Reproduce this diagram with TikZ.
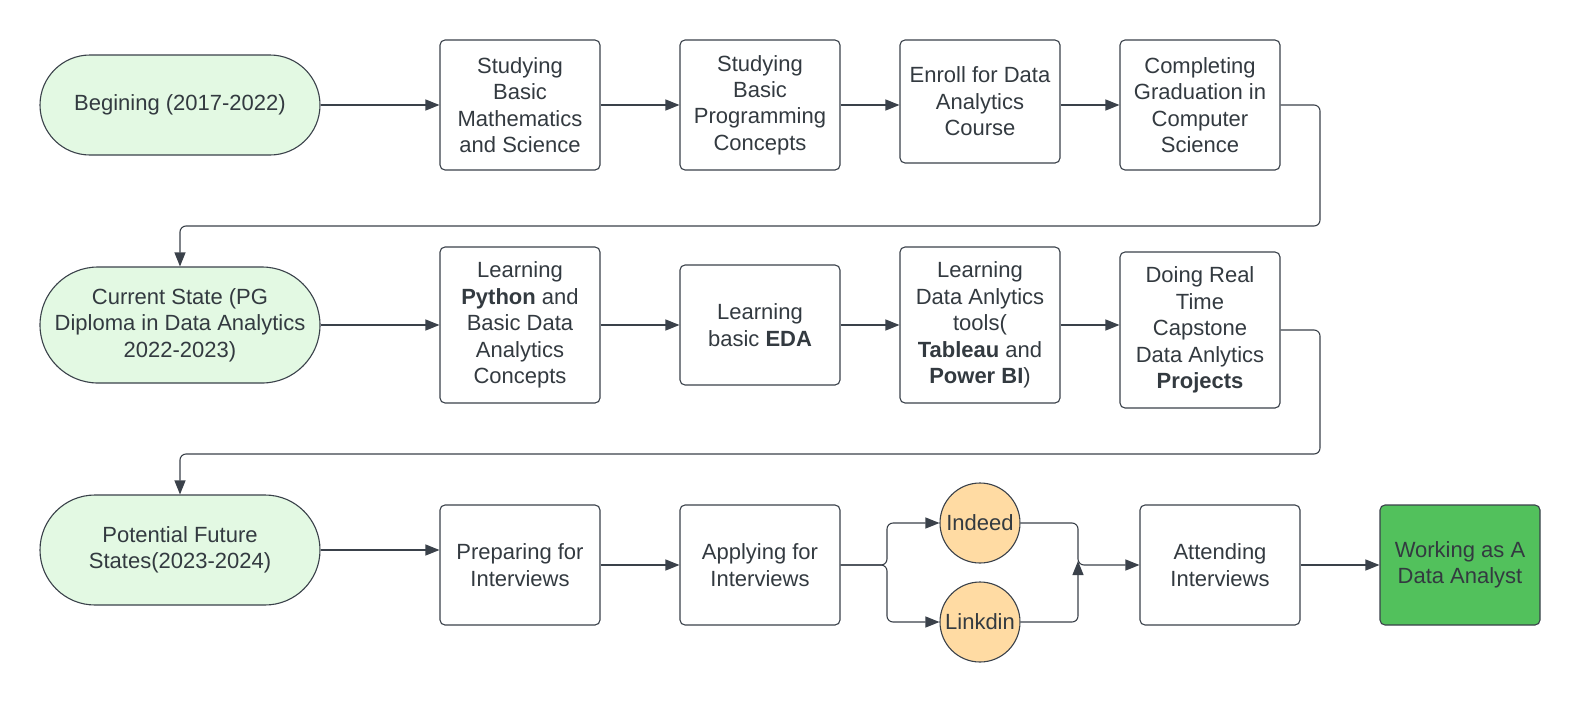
\documentclass[tikz,border=0pt]{standalone}
\usepackage{fontspec}
\setmainfont{Liberation Sans}
\usetikzlibrary{arrows.meta}
\definecolor{ln}{HTML}{3A414A}
\definecolor{tx}{HTML}{333A40}
\definecolor{stfill}{HTML}{E3F9E3}
\definecolor{cfill}{HTML}{FFDBA3}
\definecolor{gfill}{HTML}{52C15C}
\tikzset{
  base/.style={draw=ln, line width=1.1pt, text=tx, align=center, inner sep=2pt,
    font=\fontsize{22}{26.4}\selectfont},
  box/.style={base, rectangle, rounded corners=5pt, minimum width=160pt, fill=white},
  stad/.style={base, rectangle, fill=stfill, minimum width=280pt},
  circ/.style={base, circle, fill=cfill, minimum size=80pt, inner sep=0pt},
  goal/.style={base, rectangle, rounded corners=5pt, fill=gfill, minimum width=160pt},
  arr/.style={draw=ln, line width=1.1pt, -{Triangle[length=14pt,width=11pt]}, rounded corners=6pt},
  ln/.style={draw=ln, line width=1.1pt, rounded corners=6pt}
}
\begin{document}
\begin{tikzpicture}[x=1pt,y=-1pt]
\useasboundingbox (0,0) rectangle (1580,705);
% row 1
\node[stad, minimum height=100pt, rounded corners=50pt] (beg) at (180,105) {Begining (2017-2022)};
\node[box, minimum height=130pt] (r1a) at (520,105) {Studying\\Basic\\Mathematics\\and Science};
\node[box, minimum height=130pt] (r1b) at (760,105) {Studying\\Basic\\Programming\\Concepts};
\node[box, minimum height=123pt] (r1c) at (980,101.5) {Enroll for Data\\Analytics\\Course};
\node[box, minimum height=130pt] (r1d) at (1200,105) {Completing\\Graduation in\\Computer\\Science};
% row 2
\node[stad, minimum height=116pt, rounded corners=58pt] (cur) at (180,325) {Current State (PG\\Diploma in Data Analytics\\2022-2023)};
\node[box, minimum height=156pt] (r2a) at (520,325) {Learning\\\textbf{Python} and\\Basic Data\\Analytics\\Concepts};
\node[box, minimum height=120pt] (r2b) at (760,325) {Learning\\basic \textbf{EDA}};
\node[box, minimum height=156pt] (r2c) at (980,325) {Learning\\Data Anlytics\\tools(\\\textbf{Tableau} and\\\textbf{Power BI})};
\node[box, minimum height=156pt] (r2d) at (1200,330) {Doing Real\\Time\\Capstone\\Data Anlytics\\\textbf{Projects}};
% row 3
\node[stad, minimum height=110pt, rounded corners=55pt] (pot) at (180,550) {Potential Future\\States(2023-2024)};
\node[box, minimum height=120pt] (r3a) at (520,565) {Preparing for\\Interviews};
\node[box, minimum height=120pt] (r3b) at (760,565) {Applying for\\Interviews};
\node[circ] (ind) at (980,523) {Indeed};
\node[circ] (lnk) at (980,622) {Linkdin};
\node[box, minimum height=120pt] (att) at (1220,565) {Attending\\Interviews};
\node[goal, minimum height=120pt] (work) at (1460,565) {Working as A\\Data Analyst};
% connectors row 1
\draw[arr] (beg.east) -- (r1a.west |- beg.east);
\draw[arr] (r1a.east) -- (r1b.west);
\draw[arr] (r1b.east) -- (r1c.west |- r1b.east);
\draw[arr] (r1c.east |- r1d.west) -- (r1d.west);
\draw[arr] (r1d.east) -- (1320,105) -- (1320,226) -- (180,226) -- (cur.north);
% row 2
\draw[arr] (cur.east) -- (r2a.west);
\draw[arr] (r2a.east) -- (r2b.west);
\draw[arr] (r2b.east) -- (r2c.west);
\draw[arr] (r2c.east) -- (r2d.west |- r2c.east);
\draw[arr] (r2d.east) -- (1320,330) -- (1320,454) -- (180,454) -- (pot.north);
% row 3
\draw[arr] (pot.east) -- (r3a.west |- pot.east);
\draw[arr] (r3a.east |- r3b.west) -- (r3b.west);
\coordinate (split) at (887,565);
\coordinate (merge) at (1078,565);
\draw[arr] (r3b.east) -- (split) -- (split |- ind.west) -- (ind.west);
\draw[arr] (r3b.east) -- (split) -- (split |- lnk.west) -- (lnk.west);
\draw[arr] (ind.east) -- (merge |- ind.east) -- (merge) -- (att.west);
\draw[arr] (lnk.east) -- (merge |- lnk.east) -- ([yshift=4pt]merge);
\draw[arr] (att.east) -- (work.west);
\end{tikzpicture}
\end{document}
